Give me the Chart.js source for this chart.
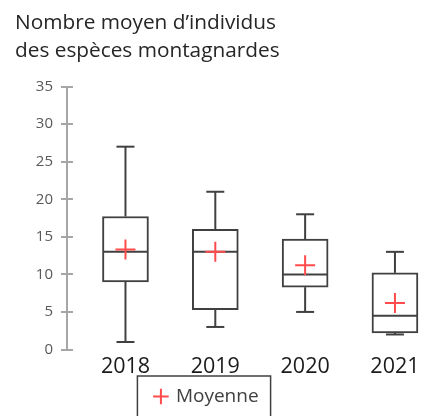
<!DOCTYPE html>
<html lang="fr">
<head>
<meta charset="utf-8">
<title>Nombre moyen d'individus des espèces montagnardes</title>
<script src="https://cdn.jsdelivr.net/npm/chart.js@4.4.1/dist/chart.umd.min.js"></script>
<style>
    html, body { margin: 0; padding: 0; background: #fff; }
    #wrap { width: 423px; height: 416px; }
</style>
</head>
<body>
<div id="wrap"><canvas id="boxChart"></canvas></div>
<script>
// Statistiques par année
const years = ['2018', '2019', '2020', '2021'];
const minValues = [1, 3, 5, 2];
const q1Values = [9, 5.3, 8.3, 2.2];
const medianValues = [13, 13, 10, 4.5];
const q3Values = [17.7, 16, 14.7, 10.2];
const maxValues = [27, 21, 18, 13];
const meanValues = [13.3, 13, 11.2, 6.2];

const FONT = "'Open Sans', sans-serif";
const BOX_COLOR = '#404040';
const MEAN_COLOR = '#ff4b4b';
const AXIS_COLOR = '#a6a6a6';
const CAP_HALF = 9;

function strokeLine(ctx, x1, y1, x2, y2) {
    ctx.beginPath();
    ctx.moveTo(x1, y1);
    ctx.lineTo(x2, y2);
    ctx.stroke();
}

// Moustaches et médianes, dessinées juste après les boîtes
const boxPlotExtras = {
    id: 'boxPlotExtras',
    afterDatasetDraw(chart, args) {
        if (args.index !== 0) return;
        const { ctx, scales: { x, y } } = chart;
        const meta = chart.getDatasetMeta(0);
        ctx.save();
        ctx.strokeStyle = BOX_COLOR;
        ctx.lineWidth = 2;
        years.forEach((year, i) => {
            const bar = meta.data[i];
            const cx = x.getPixelForValue(i + 1);
            const half = bar.width / 2;

            // moustache haute
            const top = y.getPixelForValue(maxValues[i]);
            strokeLine(ctx, cx, y.getPixelForValue(q3Values[i]), cx, top);
            strokeLine(ctx, cx - CAP_HALF, top, cx + CAP_HALF, top);

            // moustache basse
            const bottom = y.getPixelForValue(minValues[i]);
            strokeLine(ctx, cx, y.getPixelForValue(q1Values[i]), cx, bottom);
            strokeLine(ctx, cx - CAP_HALF, bottom, cx + CAP_HALF, bottom);

            // médiane
            const med = y.getPixelForValue(medianValues[i]);
            strokeLine(ctx, cx - half + 1, med, cx + half - 1, med);
        });
        ctx.restore();
    },
    afterDraw(chart) {
        const { ctx, chartArea, scales: { y } } = chart;
        ctx.save();

        // graduations qui traversent l'axe vertical
        ctx.strokeStyle = AXIS_COLOR;
        ctx.lineWidth = 2;
        y.ticks.forEach(t => {
            const py = Math.round(y.getPixelForValue(t.value));
            strokeLine(ctx, chartArea.left, py, chartArea.left + 6, py);
        });

        // cadre de la légende
        const hb = chart.legend.legendHitBoxes[0];
        if (hb) {
            ctx.strokeStyle = BOX_COLOR;
            ctx.lineWidth = 1.5;
            ctx.strokeRect(hb.left - 18, hb.top - 11, hb.width + 30, 80);
        }
        ctx.restore();
    }
};

const ctx = document.getElementById('boxChart').getContext('2d');
const boxChart = new Chart(ctx, {
    type: 'bar',
    data: {
        datasets: [{
            label: 'Boîtes',
            data: years.map((year, i) => ({ x: i + 1, y: [q1Values[i], q3Values[i]] })),
            backgroundColor: '#ffffff',
            borderColor: BOX_COLOR,
            borderWidth: 2,
            borderSkipped: false,
            barThickness: 46,
            clip: false,
            order: 2
        }, {
            type: 'scatter',
            label: 'Moyenne',
            data: years.map((year, i) => ({ x: i + 1, y: meanValues[i] })),
            pointStyle: 'cross',
            pointRadius: 10,
            pointBorderWidth: 2,
            borderColor: MEAN_COLOR,
            backgroundColor: MEAN_COLOR,
            borderWidth: 2,
            clip: false,
            order: 1
        }]
    },
    options: {
        responsive: true,
        maintainAspectRatio: false,
        animation: false,
        layout: {
            padding: { left: 15, right: 24, top: 9, bottom: 0 }
        },
        plugins: {
            title: {
                display: true,
                text: ['Nombre moyen d\u2019individus', 'des espèces montagnardes'],
                align: 'start',
                color: '#262626',
                font: { family: FONT, size: 20.8, weight: 'normal', lineHeight: 1.36 },
                padding: { top: 0, bottom: 21 }
            },
            legend: {
                position: 'bottom',
                labels: {
                    filter: item => item.text === 'Moyenne',
                    usePointStyle: true,
                    boxWidth: 11,
                    boxHeight: 11,
                    color: '#404040',
                    font: { family: FONT, size: 19 },
                    padding: 10
                }
            },
            tooltip: { enabled: false }
        },
        scales: {
            x: {
                type: 'linear',
                offset: false,
                min: 0.349,
                max: 4.045,
                grid: { display: false },
                border: { display: false },
                ticks: {
                    stepSize: 1,
                    includeBounds: false,
                    autoSkip: false,
                    maxRotation: 0,
                    padding: -1,
                    color: '#1a1a1a',
                    font: { family: FONT, size: 21.5, lineHeight: 1.0 },
                    callback: value => years[value - 1] ?? ''
                }
            },
            y: {
                min: 0,
                max: 35,
                afterFit: scale => { scale.width = 52; },
                grid: {
                    drawOnChartArea: false,
                    drawTicks: true,
                    tickLength: 6,
                    color: AXIS_COLOR,
                    lineWidth: 2
                },
                border: { display: true, color: AXIS_COLOR, width: 2 },
                ticks: {
                    stepSize: 5,
                    padding: 8,
                    color: '#595959',
                    font: { family: FONT, size: 15 }
                }
            }
        }
    },
    plugins: [boxPlotExtras]
});
</script>
</body>
</html>
